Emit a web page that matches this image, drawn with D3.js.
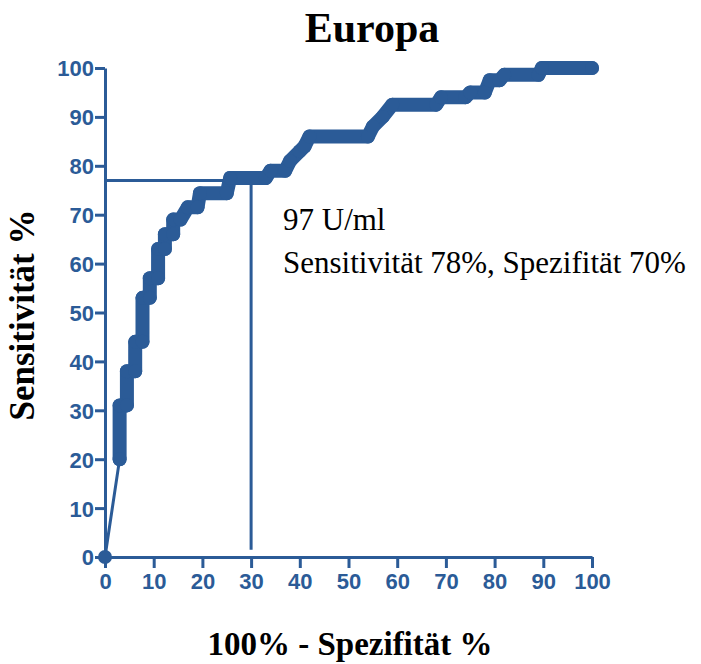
<!DOCTYPE html>
<html><head><meta charset="utf-8">
<script src="https://cdn.jsdelivr.net/npm/d3@7"></script>
<style>body{margin:0;background:#fff}svg{display:block}</style>
</head><body>
<svg id="c" width="701" height="664"></svg>
<script>
// ROC curve points (100% - Spezifität, Sensitivität)
const fpr = [0, 3, 3, 4.5, 4.5, 6.2, 6.2, 7.7, 7.7, 9.2, 9.2, 10.9, 10.9, 12.3, 12.3, 14, 14, 15.5, 17, 19, 19.5, 25, 25.7, 33, 34, 37, 38, 40, 41, 42, 54, 55, 57, 59, 68, 69, 74, 75, 78, 79, 81, 82, 89, 89.7, 100];
const tpr = [0, 20, 31, 31, 38, 38, 44, 44, 53, 53, 57, 57, 63, 63, 66, 66, 69, 69, 71.5, 71.5, 74.4, 74.4, 77.5, 77.5, 79, 79, 81, 83, 84, 86, 86, 88, 90, 92.5, 92.5, 94, 94, 95, 95, 97.5, 97.5, 98.6, 98.6, 100, 100];
const xTicks = [0, 10, 20, 30, 40, 50, 60, 70, 80, 90, 100];
const yTicks = [0, 10, 20, 30, 40, 50, 60, 70, 80, 90, 100];
const cutoffX = [0, 30, 30];
const cutoffY = [77, 77, 1.5];
const title = "Europa";
const xLabel = "100% - Spezifität %";
const yLabel = "Sensitivität %";
const note1 = "97 U/ml";
const note2 = "Sensitivität 78%, Spezifität 70%";

const blue = "#2b5b97";
const svg = d3.select("#c");
const x = d3.scaleLinear().domain([0, 100]).range([105, 592]);
const y = d3.scaleLinear().domain([0, 100]).range([557, 68]);

const pts = fpr.map((v, i) => [v, tpr[i]]);
const line = d3.line().x(d => x(d[0])).y(d => y(d[1]));

// cutoff lines
svg.append("path").attr("d", line(cutoffX.map((v, i) => [v, cutoffY[i]])))
  .attr("fill", "none").attr("stroke", blue).attr("stroke-width", 3);

// thin connecting line
svg.append("path").attr("d", line(pts)).attr("fill", "none")
  .attr("stroke", blue).attr("stroke-width", 3);
// thick marker band
svg.append("path").attr("d", line(pts.slice(1))).attr("fill", "none")
  .attr("stroke", blue).attr("stroke-width", 14)
  .attr("stroke-linejoin", "round").attr("stroke-linecap", "round");
svg.selectAll("circle.pt").data(pts).enter().append("circle")
  .attr("class", "pt").attr("cx", d => x(d[0])).attr("cy", d => y(d[1]))
  .attr("r", 7).attr("fill", blue);

// axes
const gx = svg.append("g").attr("transform", "translate(0,557)")
  .call(d3.axisBottom(x).tickValues(xTicks).tickSize(11).tickSizeOuter(0).tickPadding(5));
const gy = svg.append("g").attr("transform", "translate(105,0)")
  .call(d3.axisLeft(y).tickValues(yTicks).tickSize(10).tickSizeOuter(0).tickPadding(1));
[gx, gy].forEach(g => {
  g.select(".domain").attr("stroke", blue).attr("stroke-width", 3);
  g.selectAll(".tick line").attr("stroke", blue).attr("stroke-width", 3);
  g.selectAll(".tick text").attr("fill", blue)
    .style("font-family", "Liberation Sans, Arial, sans-serif")
    .style("font-weight", "bold").style("font-size", "22px");
});
gy.selectAll(".tick text").attr("dy", "0.36em");

// texts
const serif = "Liberation Serif, Times New Roman, serif";
svg.append("text").attr("x", 372).attr("y", 42).attr("text-anchor", "middle")
  .style("font-family", serif).style("font-weight", "bold").style("font-size", "42px")
  .text(title);
svg.append("text").attr("x", 350).attr("y", 655).attr("text-anchor", "middle")
  .style("font-family", serif).style("font-weight", "bold").style("font-size", "33px")
  .text(xLabel);
svg.append("text").attr("transform", "translate(34,315) rotate(-90)").attr("text-anchor", "middle")
  .style("font-family", serif).style("font-weight", "bold").style("font-size", "35px")
  .text(yLabel);
svg.append("text").attr("x", 283).attr("y", 230)
  .style("font-family", serif).style("font-size", "31px").text(note1);
svg.append("text").attr("x", 283).attr("y", 273)
  .style("font-family", serif).style("font-size", "31px").text(note2);
</script>
</body></html>
